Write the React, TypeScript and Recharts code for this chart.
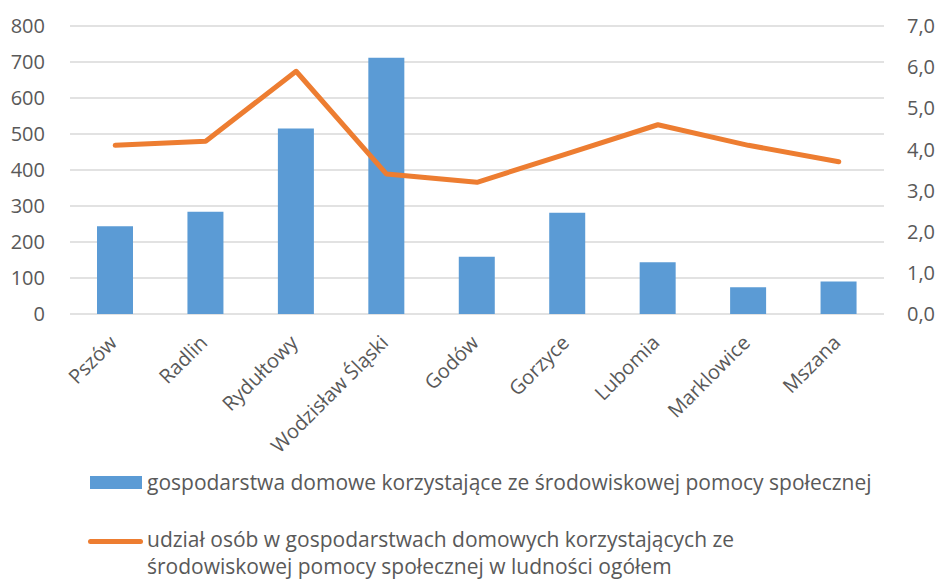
import { Bar, CartesianGrid, ComposedChart, Line, XAxis, YAxis } from "recharts";

const gminy = ["Pszów", "Radlin", "Rydułtowy", "Wodzisław Śląski", "Godów", "Gorzyce", "Lubomia", "Marklowice", "Mszana"];
const gospodarstwa = [244, 284, 515, 712, 159, 281, 144, 74, 90];
const udzial = [4.1, 4.2, 5.9, 3.4, 3.2, 3.9, 4.6, 4.1, 3.7];
const leftTicks = [0, 100, 200, 300, 400, 500, 600, 700, 800];
const rightTicks = [0, 1, 2, 3, 4, 5, 6, 7];

const barLabel = "gospodarstwa domowe korzystające ze środowiskowej pomocy społecznej";
const lineLabel = ["udział osób w gospodarstwach domowych korzystających ze", "środowiskowej pomocy społecznej w ludności ogółem"];

const data = gminy.map((name, i) => ({ name, gosp: gospodarstwa[i], udzial: udzial[i] }));

const font = "'Open Sans', sans-serif";
const grey = "#595959";

function AngledTick({ x, y, payload }: any) {
  const tx = x + 3;
  const ty = y + 22;
  return (
    <text x={tx} y={ty} transform={`rotate(-45, ${tx}, ${ty})`} textAnchor="end" fill={grey} fontSize={20} fontFamily={font}>
      {payload.value}
    </text>
  );
}

export default function App() {
  return (
    <div style={{ position: "absolute", left: 0, top: 0, width: 941, height: 580, background: "#fff", fontFamily: font }}>
      <ComposedChart width={941} height={462} data={data} margin={{ top: 26, right: 0, bottom: 0, left: 0 }}>
        <CartesianGrid vertical={false} stroke="#d9d9d9" strokeWidth={1.5} yAxisId="left" />
        <XAxis dataKey="name" interval={0} height={148} axisLine={false} tickLine={false} tick={<AngledTick />} />
        <YAxis yAxisId="left" width={70} domain={[0, 800]} ticks={leftTicks} axisLine={false} tickLine={false} tickMargin={19}
          tick={{ fill: grey, fontSize: 20, fontFamily: font }} />
        <YAxis yAxisId="right" orientation="right" width={57} domain={[0, 7]} ticks={rightTicks} axisLine={false} tickLine={false} tickMargin={17}
          tickFormatter={(v: number) => v.toFixed(1).replace(".", ",")} tick={{ fill: grey, fontSize: 20, fontFamily: font, textAnchor: "start" }} />
        <Bar yAxisId="left" dataKey="gosp" fill="#5b9bd5" barSize={36} isAnimationActive={false} />
        <Line yAxisId="right" dataKey="udzial" type="linear" stroke="#ed7d31" strokeWidth={5} strokeLinecap="round" strokeLinejoin="round" dot={false} isAnimationActive={false} />
      </ComposedChart>
      <div style={{ position: "absolute", left: 90, top: 468, display: "flex", alignItems: "center", color: grey, fontSize: 21, whiteSpace: "nowrap" }}>
        <div style={{ width: 52, height: 13, background: "#5b9bd5", marginRight: 5 }} />
        <span>{barLabel}</span>
      </div>
      <div style={{ position: "absolute", left: 88, top: 526, color: grey, fontSize: 21, lineHeight: "27px", whiteSpace: "nowrap" }}>
        <div style={{ position: "absolute", left: 0, top: 13, width: 55, height: 5, borderRadius: 3, background: "#ed7d31" }} />
        <div style={{ marginLeft: 59 }}>
          <div>{lineLabel[0]}</div>
          <div>{lineLabel[1]}</div>
        </div>
      </div>
    </div>
  );
}
